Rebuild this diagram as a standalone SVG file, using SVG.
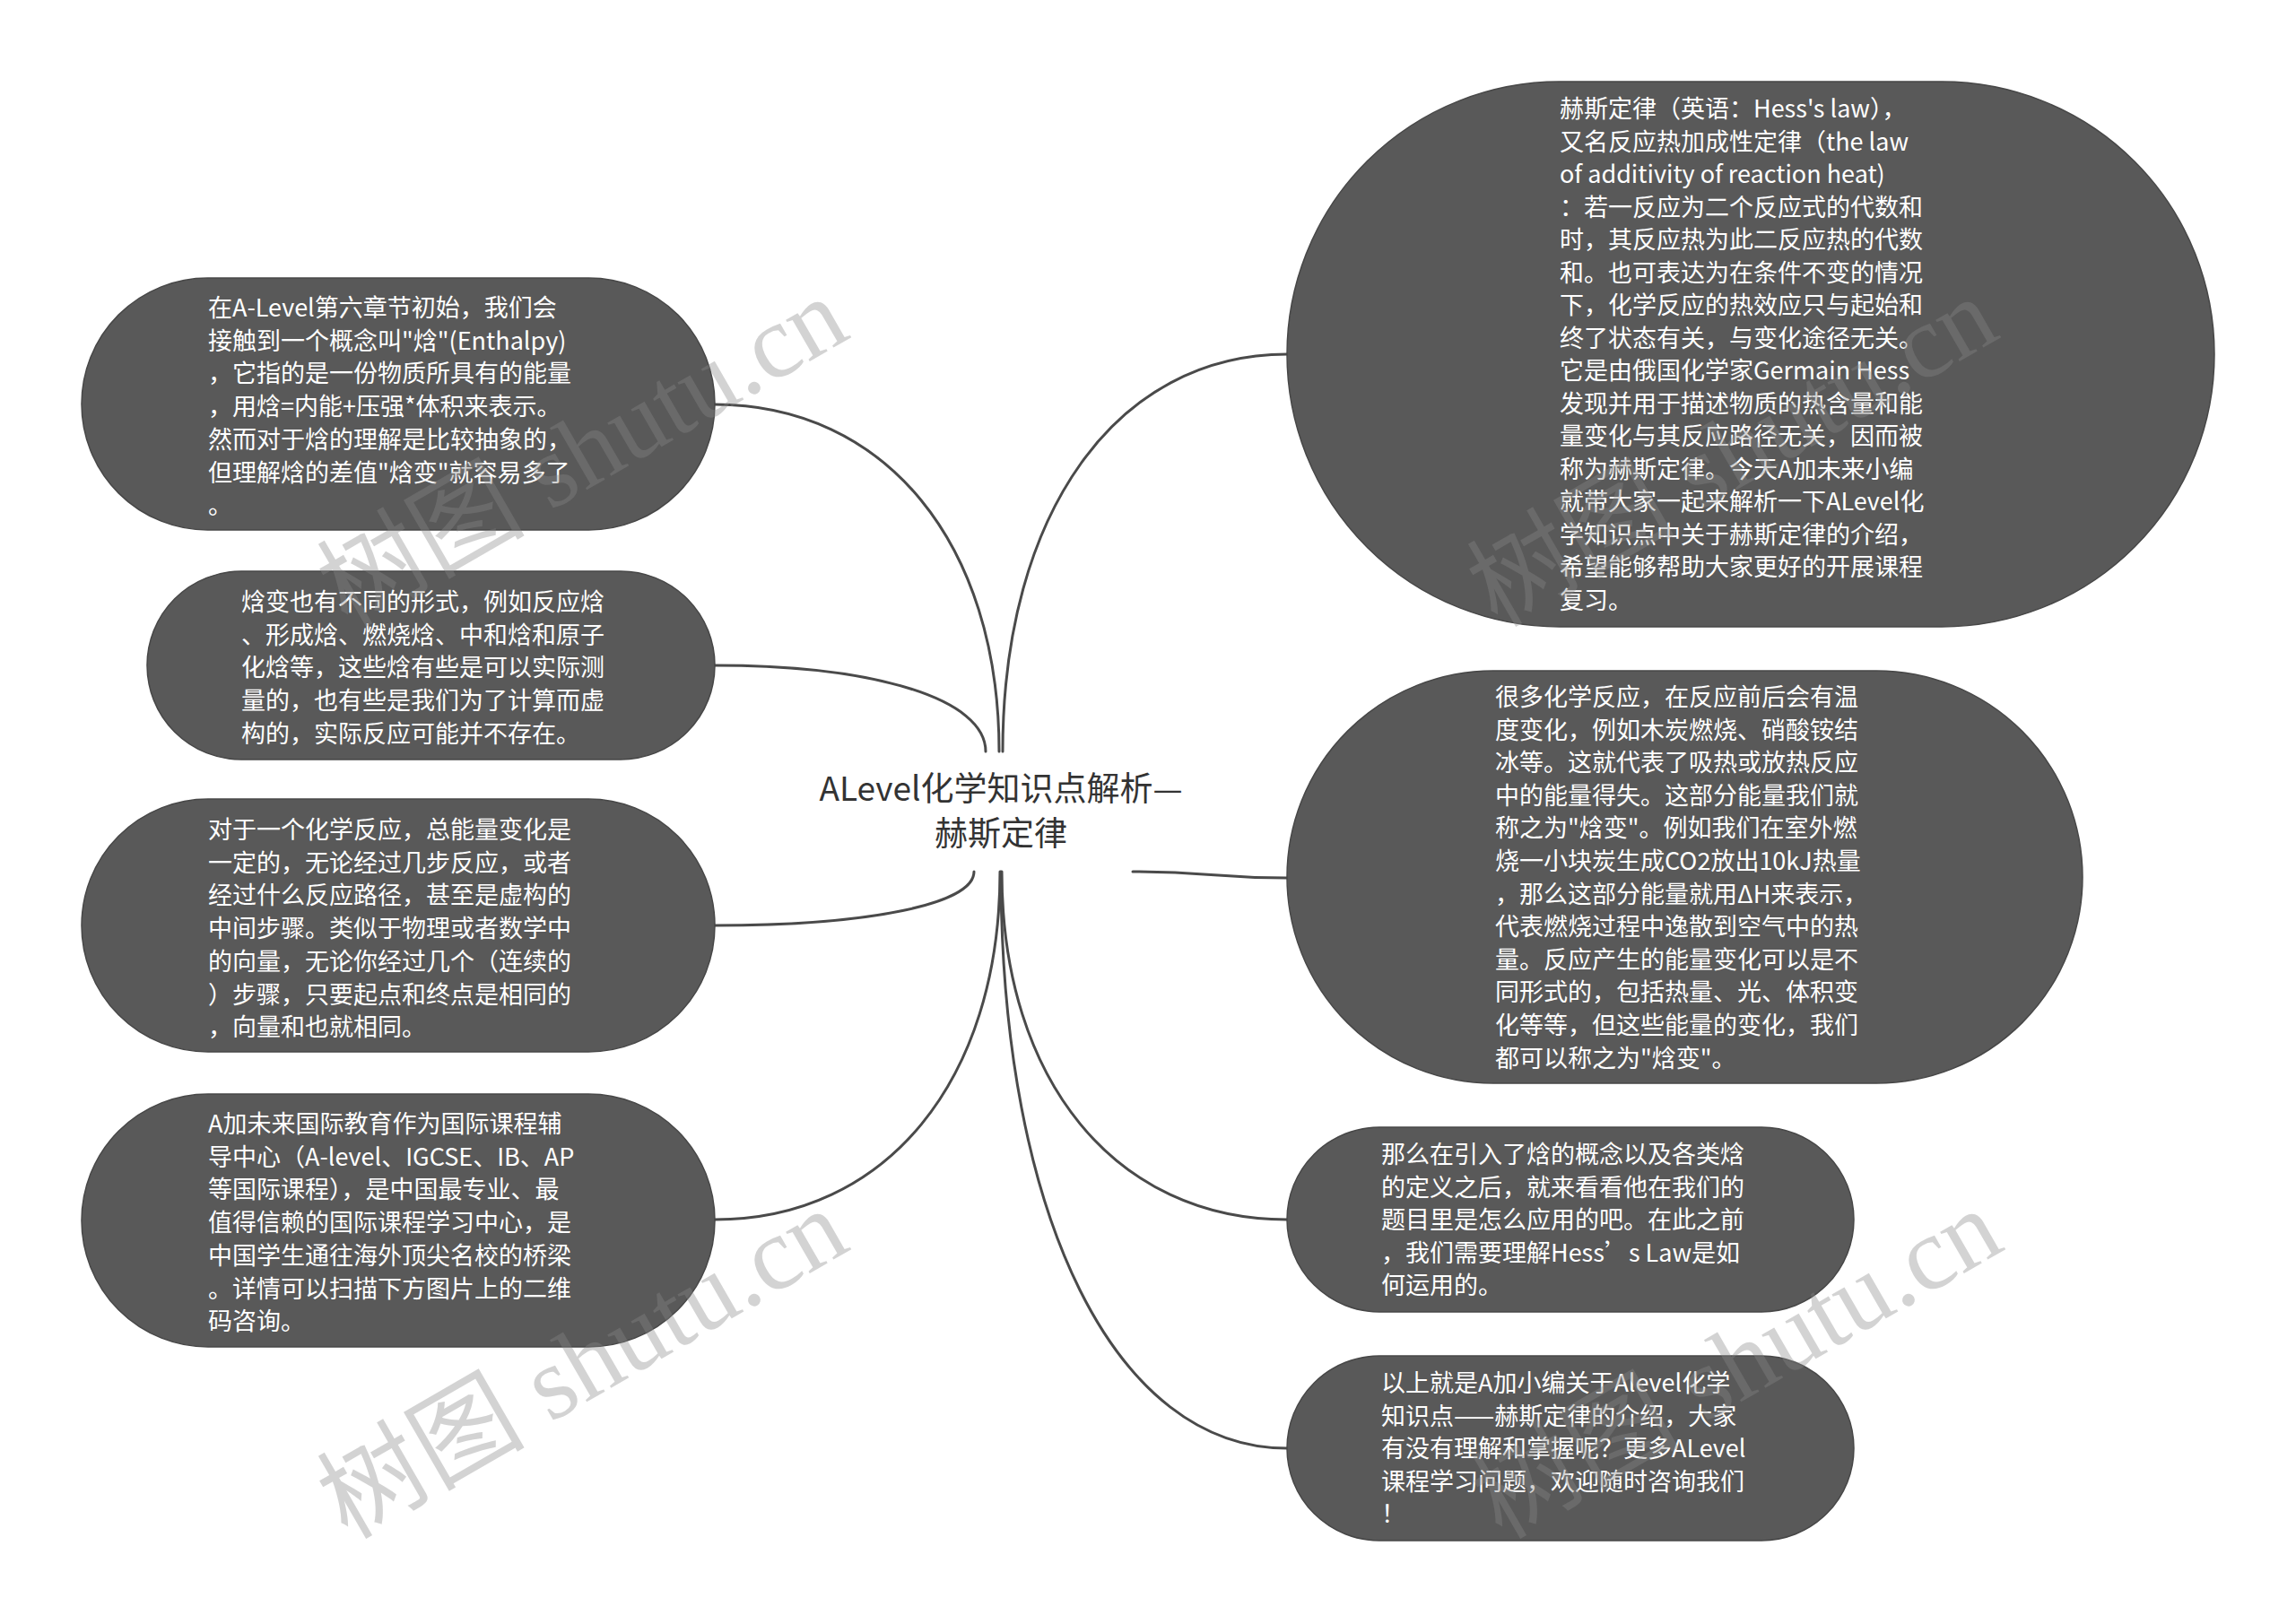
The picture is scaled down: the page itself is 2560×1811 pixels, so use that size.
<svg xmlns="http://www.w3.org/2000/svg" width="2560" height="1811" viewBox="0 0 2560 1811">
<style>
.bg{fill:#ffffff}
.node{fill:#595959;stroke:#474747;stroke-width:1.5}
.nt{font-family:"Noto Sans CJK SC","Microsoft YaHei",sans-serif;font-size:27px;fill:#ffffff}
.root{font-family:"Noto Sans CJK SC","Microsoft YaHei",sans-serif;font-size:37px;fill:#333333;text-anchor:middle}
.edge{fill:none;stroke:#4a4a4a;stroke-width:3;stroke-linecap:round}
.wm{font-family:"Liberation Serif","Noto Sans CJK SC",serif;font-size:116px;fill:#888888;opacity:0.36;text-anchor:middle}
</style>
<rect class="bg" x="0" y="0" width="2560" height="1811"/>

<g id="connectors">
<path class="edge" d="M1118,838 C1118,572 1245,395 1435,395"/>
<path class="edge" d="M1114,838 C1114,606 987,451 797,451"/>
<path class="edge" d="M1099,838 C1099,780 978,742 797,742"/>
<path class="edge" d="M1086,972 C1086,1008 970,1032 797,1032"/>
<path class="edge" d="M1115,972 C1115,1205 988,1360 797,1360"/>
<path class="edge" d="M1263,972 C1350,972 1350,979 1435,979"/>
<path class="edge" d="M1117,972 C1117,1205 1244,1360 1435,1360"/>
<path class="edge" d="M1116,972 C1116,1358 1244,1615 1435,1615"/>
</g>

<g id="root">
<text class="root" x="1116" y="893">ALevel化学知识点解析—</text>
<text class="root" x="1116" y="943">赫斯定律</text>
</g>

<g id="node-r1">
<rect class="node" x="1435" y="91" width="1034" height="608" rx="304" ry="304"/>
<text class="nt" x="1739" y="131">
<tspan x="1739">赫斯定律（英语：Hess's law），</tspan>
<tspan x="1739" dy="36.5">又名反应热加成性定律（the law</tspan>
<tspan x="1739" dy="36.5">of additivity of reaction heat)</tspan>
<tspan x="1739" dy="36.5">：若一反应为二个反应式的代数和</tspan>
<tspan x="1739" dy="36.5">时，其反应热为此二反应热的代数</tspan>
<tspan x="1739" dy="36.5">和。也可表达为在条件不变的情况</tspan>
<tspan x="1739" dy="36.5">下，化学反应的热效应只与起始和</tspan>
<tspan x="1739" dy="36.5">终了状态有关，与变化途径无关。</tspan>
<tspan x="1739" dy="36.5">它是由俄国化学家Germain Hess</tspan>
<tspan x="1739" dy="36.5">发现并用于描述物质的热含量和能</tspan>
<tspan x="1739" dy="36.5">量变化与其反应路径无关，因而被</tspan>
<tspan x="1739" dy="36.5">称为赫斯定律。今天A加未来小编</tspan>
<tspan x="1739" dy="36.5">就带大家一起来解析一下ALevel化</tspan>
<tspan x="1739" dy="36.5">学知识点中关于赫斯定律的介绍，</tspan>
<tspan x="1739" dy="36.5">希望能够帮助大家更好的开展课程</tspan>
<tspan x="1739" dy="36.5">复习。</tspan>
</text>
</g>

<g id="node-r2">
<rect class="node" x="1435" y="748" width="887" height="460" rx="230" ry="230"/>
<text class="nt" x="1667" y="787">
<tspan x="1667">很多化学反应，在反应前后会有温</tspan>
<tspan x="1667" dy="36.6">度变化，例如木炭燃烧、硝酸铵结</tspan>
<tspan x="1667" dy="36.6">冰等。这就代表了吸热或放热反应</tspan>
<tspan x="1667" dy="36.6">中的能量得失。这部分能量我们就</tspan>
<tspan x="1667" dy="36.6">称之为"焓变"。例如我们在室外燃</tspan>
<tspan x="1667" dy="36.6">烧一小块炭生成CO2放出10kJ热量</tspan>
<tspan x="1667" dy="36.6">，那么这部分能量就用ΔH来表示，</tspan>
<tspan x="1667" dy="36.6">代表燃烧过程中逸散到空气中的热</tspan>
<tspan x="1667" dy="36.6">量。反应产生的能量变化可以是不</tspan>
<tspan x="1667" dy="36.6">同形式的，包括热量、光、体积变</tspan>
<tspan x="1667" dy="36.6">化等等，但这些能量的变化，我们</tspan>
<tspan x="1667" dy="36.6">都可以称之为"焓变"。</tspan>
</text>
</g>

<g id="node-r3">
<rect class="node" x="1435" y="1257" width="632" height="206" rx="103" ry="103"/>
<text class="nt" x="1540" y="1297">
<tspan x="1540">那么在引入了焓的概念以及各类焓</tspan>
<tspan x="1540" dy="36.6">的定义之后，就来看看他在我们的</tspan>
<tspan x="1540" dy="36.6">题目里是怎么应用的吧。在此之前</tspan>
<tspan x="1540" dy="36.6">，我们需要理解Hess’s Law是如</tspan>
<tspan x="1540" dy="36.6">何运用的。</tspan>
</text>
</g>

<g id="node-r4">
<rect class="node" x="1435" y="1512" width="632" height="206" rx="103" ry="103"/>
<text class="nt" x="1540" y="1552">
<tspan x="1540">以上就是A加小编关于Alevel化学</tspan>
<tspan x="1540" dy="36.6">知识点——赫斯定律的介绍，大家</tspan>
<tspan x="1540" dy="36.6">有没有理解和掌握呢？更多ALevel</tspan>
<tspan x="1540" dy="36.6">课程学习问题，欢迎随时咨询我们</tspan>
<tspan x="1540" dy="36.6">！</tspan>
</text>
</g>

<g id="node-l1">
<rect class="node" x="91" y="310" width="706" height="281" rx="140.5" ry="140.5"/>
<text class="nt" x="232" y="353">
<tspan x="232">在A-Level第六章节初始，我们会</tspan>
<tspan x="232" dy="36.7">接触到一个概念叫"焓"(Enthalpy)</tspan>
<tspan x="232" dy="36.7">，它指的是一份物质所具有的能量</tspan>
<tspan x="232" dy="36.7">，用焓=内能+压强*体积来表示。</tspan>
<tspan x="232" dy="36.7">然而对于焓的理解是比较抽象的，</tspan>
<tspan x="232" dy="36.7">但理解焓的差值"焓变"就容易多了</tspan>
<tspan x="232" dy="36.7">。</tspan>
</text>
</g>

<g id="node-l2">
<rect class="node" x="164" y="637" width="633" height="210" rx="105" ry="105"/>
<text class="nt" x="269" y="681">
<tspan x="269">焓变也有不同的形式，例如反应焓</tspan>
<tspan x="269" dy="36.7">、形成焓、燃烧焓、中和焓和原子</tspan>
<tspan x="269" dy="36.7">化焓等，这些焓有些是可以实际测</tspan>
<tspan x="269" dy="36.7">量的，也有些是我们为了计算而虚</tspan>
<tspan x="269" dy="36.7">构的，实际反应可能并不存在。</tspan>
</text>
</g>

<g id="node-l3">
<rect class="node" x="91" y="891" width="706" height="282" rx="141" ry="141"/>
<text class="nt" x="232" y="935">
<tspan x="232">对于一个化学反应，总能量变化是</tspan>
<tspan x="232" dy="36.7">一定的，无论经过几步反应，或者</tspan>
<tspan x="232" dy="36.7">经过什么反应路径，甚至是虚构的</tspan>
<tspan x="232" dy="36.7">中间步骤。类似于物理或者数学中</tspan>
<tspan x="232" dy="36.7">的向量，无论你经过几个（连续的</tspan>
<tspan x="232" dy="36.7">）步骤，只要起点和终点是相同的</tspan>
<tspan x="232" dy="36.7">，向量和也就相同。</tspan>
</text>
</g>

<g id="node-l4">
<rect class="node" x="91" y="1220" width="706" height="282" rx="141" ry="141"/>
<text class="nt" x="232" y="1263">
<tspan x="232">A加未来国际教育作为国际课程辅</tspan>
<tspan x="232" dy="36.7">导中心（A-level、IGCSE、IB、AP</tspan>
<tspan x="232" dy="36.7">等国际课程），是中国最专业、最</tspan>
<tspan x="232" dy="36.7">值得信赖的国际课程学习中心，是</tspan>
<tspan x="232" dy="36.7">中国学生通往海外顶尖名校的桥梁</tspan>
<tspan x="232" dy="36.7">。详情可以扫描下方图片上的二维</tspan>
<tspan x="232" dy="36.7">码咨询。</tspan>
</text>
</g>

<g id="watermark">
<text class="wm" transform="translate(650,505) rotate(-30)" x="0" y="38">树图 shutu.cn</text>
<text class="wm" transform="translate(650,1522) rotate(-30)" x="0" y="38">树图 shutu.cn</text>
<text class="wm" transform="translate(1932,505) rotate(-30)" x="0" y="38">树图 shutu.cn</text>
<text class="wm" transform="translate(1937,1522) rotate(-30)" x="0" y="38">树图 shutu.cn</text>
</g>
</svg>
